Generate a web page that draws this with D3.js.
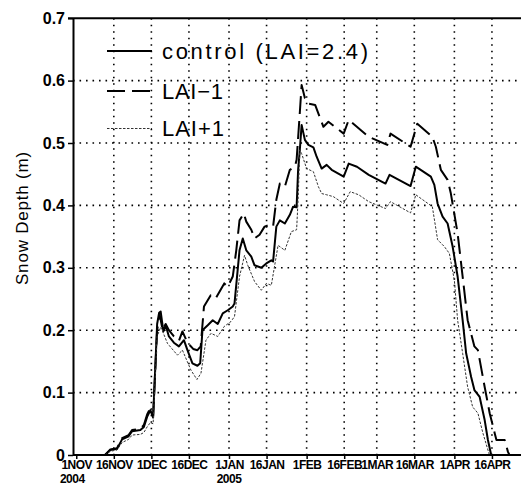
<html>
<head>
<script src="https://d3js.org/d3.v7.min.js"></script>
<style>
body{margin:0;background:#fff;}
svg{display:block;background:#fff;}
</style>
</head>
<body>
<svg id="svg" width="521" height="485"></svg>
<script>
// days since 1 Nov 2004
var ctrlDays = [11.5,13.6,16.3,18.3,20.9,22.3,25.6,27,28.3,29.6,30.7,32.3,33.1,33.7,34.8,35.7,37,39,41,43,44.4,46.4,48.4,49.5,50.4,52.5,54.5,56.5,58.5,60.5,62.5,63.2,65.2,66.5,67.9,69.9,71.2,73.9,75.9,77.9,78.6,79.9,81.3,83.3,85.3,86.6,88,88.6,89.3,90,91.3,92.7,94.7,96,98,100,102,106.8,108.8,112.1,116.8,123.5,125.1,133.5,135.6,138.3,141.6,143,144.3,146.3,148.3,150.3,152.3,154.3,155.7,157.7,159,161.1,163.1,164.4,165.7];
var ctrlDepth = [0,0.008,0.01,0.025,0.03,0.038,0.04,0.045,0.061,0.072,0.06,0.21,0.228,0.23,0.198,0.208,0.19,0.18,0.174,0.184,0.168,0.147,0.143,0.147,0.2,0.208,0.216,0.21,0.227,0.232,0.238,0.243,0.328,0.347,0.328,0.318,0.304,0.3,0.307,0.312,0.31,0.366,0.376,0.371,0.385,0.398,0.397,0.457,0.49,0.529,0.505,0.497,0.493,0.478,0.459,0.465,0.457,0.446,0.467,0.462,0.449,0.435,0.449,0.431,0.462,0.455,0.446,0.433,0.403,0.382,0.371,0.334,0.286,0.216,0.163,0.125,0.104,0.093,0.056,0.024,0];

var minusDays = [11.5,13.6,16.3,18.3,20.9,22.3,25.6,27,28.3,29.6,30.7,32.3,33.3,34.5,35.7,37,39,41,42.4,44.4,46.7,48.4,49.7,51,53.7,55.7,59.1,60.5,62.5,63.9,65.2,66.9,67.9,69.9,71.2,73.2,75.2,77.2,78.6,79.9,81.3,83.3,85.3,87.3,88,89.3,90,91.3,92.7,95.4,98.7,100.7,106.8,108.8,116.8,124.2,125.5,133.5,136.2,142.2,143.6,145.6,148.3,149.6,152.3,154.3,156.3,159,160.4,163.1,165.1,167.1,167.8,171.1,172.4,173];
var minusDepth = [0,0.009,0.011,0.027,0.032,0.04,0.042,0.048,0.065,0.075,0.063,0.2,0.225,0.2,0.21,0.2,0.19,0.183,0.198,0.18,0.17,0.168,0.174,0.238,0.256,0.251,0.275,0.27,0.286,0.328,0.376,0.387,0.374,0.361,0.347,0.353,0.366,0.369,0.366,0.409,0.435,0.43,0.457,0.462,0.473,0.55,0.593,0.572,0.563,0.561,0.526,0.534,0.515,0.537,0.51,0.497,0.515,0.494,0.531,0.51,0.494,0.457,0.441,0.419,0.355,0.286,0.216,0.174,0.168,0.109,0.067,0.035,0.024,0.024,0.005,0];

var plusDays = [11.5,13.6,16.3,18.3,20.9,22.3,25.6,27,28.3,29.6,30.7,32.3,33.7,34.3,36.4,40.4,42.4,45.8,48.2,49.8,51.8,53.8,56.5,59.1,61.8,63.2,65.2,67.2,68.5,71.2,73.9,75.9,77.9,80.6,83.3,85.9,88,88.6,89.3,90,92,94.7,96.7,98,100,102.7,106.8,109.4,112.8,116.8,123.5,125.5,133.5,135.6,142.2,144.3,147,149,151,152.3,154.3,156.3,158.3,160.4,162.4,164.4,165];
var plusDepth = [0,0.006,0.008,0.02,0.025,0.032,0.033,0.036,0.045,0.052,0.05,0.19,0.205,0.2,0.179,0.16,0.168,0.136,0.121,0.131,0.184,0.195,0.19,0.206,0.214,0.222,0.286,0.32,0.304,0.278,0.264,0.275,0.272,0.336,0.328,0.358,0.361,0.41,0.489,0.483,0.459,0.454,0.43,0.419,0.417,0.414,0.403,0.422,0.417,0.406,0.395,0.406,0.388,0.417,0.398,0.345,0.334,0.323,0.28,0.216,0.163,0.109,0.077,0.067,0.035,0.008,0];

var tickDays = [0,15,30,45,61,76,92,107,120,135,151,166];
var depthTicks = [0,0.1,0.2,0.3,0.4,0.5,0.6,0.7];
var legendLabels = ["control  (LAI=2.4)", "LAI\u22121", "LAI+1"];

var svg = d3.select("svg");
var width = +svg.attr("width");
var height = +svg.attr("height");

var base = Date.UTC(2004,10,1);
function toDate(d){ return new Date(base + d*864e5); }

var x = d3.scaleUtc().domain([toDate(-1.3), toDate(181)]).range([73, 76.3+2.486*182.3]);
var y = d3.scaleLinear().domain([0,0.7]).range([455,18.2]);

var x0 = 73, xR = width;

// grid
var grid = svg.append("g").attr("stroke","#000").attr("stroke-width",1.6).attr("stroke-dasharray","1.6,4.9");
depthTicks.slice(1,7).forEach(function(v){
    grid.append("line").attr("x1",x0).attr("x2",xR).attr("y1",y(v)).attr("y2",y(v));
});
tickDays.slice(1).forEach(function(d){
    grid.append("line").attr("x1",x(toDate(d))).attr("x2",x(toDate(d))).attr("y1",y(0.7)).attr("y2",y(0));
});

// series
var series = [
    {days:ctrlDays, vals:ctrlDepth, width:2, dash:null, color:"#000"},
    {days:minusDays, vals:minusDepth, width:2, dash:"18,7", color:"#000"},
    {days:plusDays, vals:plusDepth, width:1, dash:"2.5,1.5", color:"#333"}
];
var line = d3.line().x(function(p){return x(toDate(p[0]));}).y(function(p){return y(p[1]);});
series.forEach(function(s){
    svg.append("path")
        .datum(d3.zip(s.days, s.vals))
        .attr("d", line)
        .attr("fill","none")
        .attr("stroke", s.color)
        .attr("stroke-width", s.width)
        .attr("stroke-linejoin","round")
        .attr("stroke-dasharray", s.dash);
});

// axes
var months = ["JAN","FEB","MAR","APR","MAY","JUN","JUL","AUG","SEP","OCT","NOV","DEC"];
var xAxis = d3.axisBottom(x)
    .tickValues(tickDays.map(toDate))
    .tickSize(4).tickSizeOuter(0)
    .tickFormat(function(d){ return d.getUTCDate() + months[d.getUTCMonth()]; });
var gx = svg.append("g").attr("transform","translate(0,"+y(0)+")").call(xAxis);
gx.select(".domain").attr("stroke-width",2).attr("d","M"+x0+",0H"+xR);
gx.selectAll(".tick line").attr("stroke-width",1.5);
gx.selectAll(".tick text").attr("font-family","Liberation Sans, Arial, sans-serif")
    .attr("font-size",12).attr("font-weight","bold").attr("letter-spacing",-0.5)
    .attr("y",5).attr("dy","0.71em");

// year labels
[[0,"2004"],[61,"2005"]].forEach(function(p){
    svg.append("text").attr("x",x(toDate(p[0]))-(p[0]===0?4:0)).attr("y",483)
        .attr("text-anchor","middle")
        .attr("font-family","Liberation Sans, Arial, sans-serif")
        .attr("font-size",12).attr("font-weight","bold").attr("letter-spacing",-0.5)
        .text(p[1]);
});

var yAxis = d3.axisLeft(y).tickValues(depthTicks).tickSize(5).tickSizeOuter(0)
    .tickFormat(function(d){ return d===0 ? "0" : d.toFixed(1); });
var gy = svg.append("g").attr("transform","translate("+x0+",0)").call(yAxis);
gy.select(".domain").attr("stroke-width",2);
gy.selectAll(".tick line").attr("stroke-width",1.5);
gy.selectAll(".tick text").attr("font-family","Liberation Sans, Arial, sans-serif")
    .attr("font-size",16).attr("font-weight","bold").attr("x",-8);

// top border
svg.append("line").attr("x1",x0-5).attr("x2",xR).attr("y1",y(0.7)).attr("y2",y(0.7))
    .attr("stroke","#000").attr("stroke-width",2);

// y title
svg.append("text")
    .attr("transform","translate(28,218) rotate(-90)")
    .attr("text-anchor","middle")
    .attr("font-family","Liberation Sans, Arial, sans-serif")
    .attr("font-size",17).attr("letter-spacing",0.8)
    .text("Snow Depth (m)");

// legend
var legY = [51, 91, 128.5];
var legW = [206, 61, 62];
var legend = svg.append("g");
legendLabels.forEach(function(lab,i){
    var s = series[i];
    legend.append("line").attr("x1",107).attr("x2",152).attr("y1",legY[i]).attr("y2",legY[i])
        .attr("stroke",s.color).attr("stroke-width",s.width).attr("stroke-dasharray",s.dash);
    legend.append("text").attr("x",162).attr("y",legY[i]+7.5)
        .attr("font-family","Liberation Sans, Arial, sans-serif")
        .attr("font-size",22)
        .attr("textLength",legW[i]).attr("lengthAdjust","spacing")
        .text(lab);
});
</script>
</body>
</html>
